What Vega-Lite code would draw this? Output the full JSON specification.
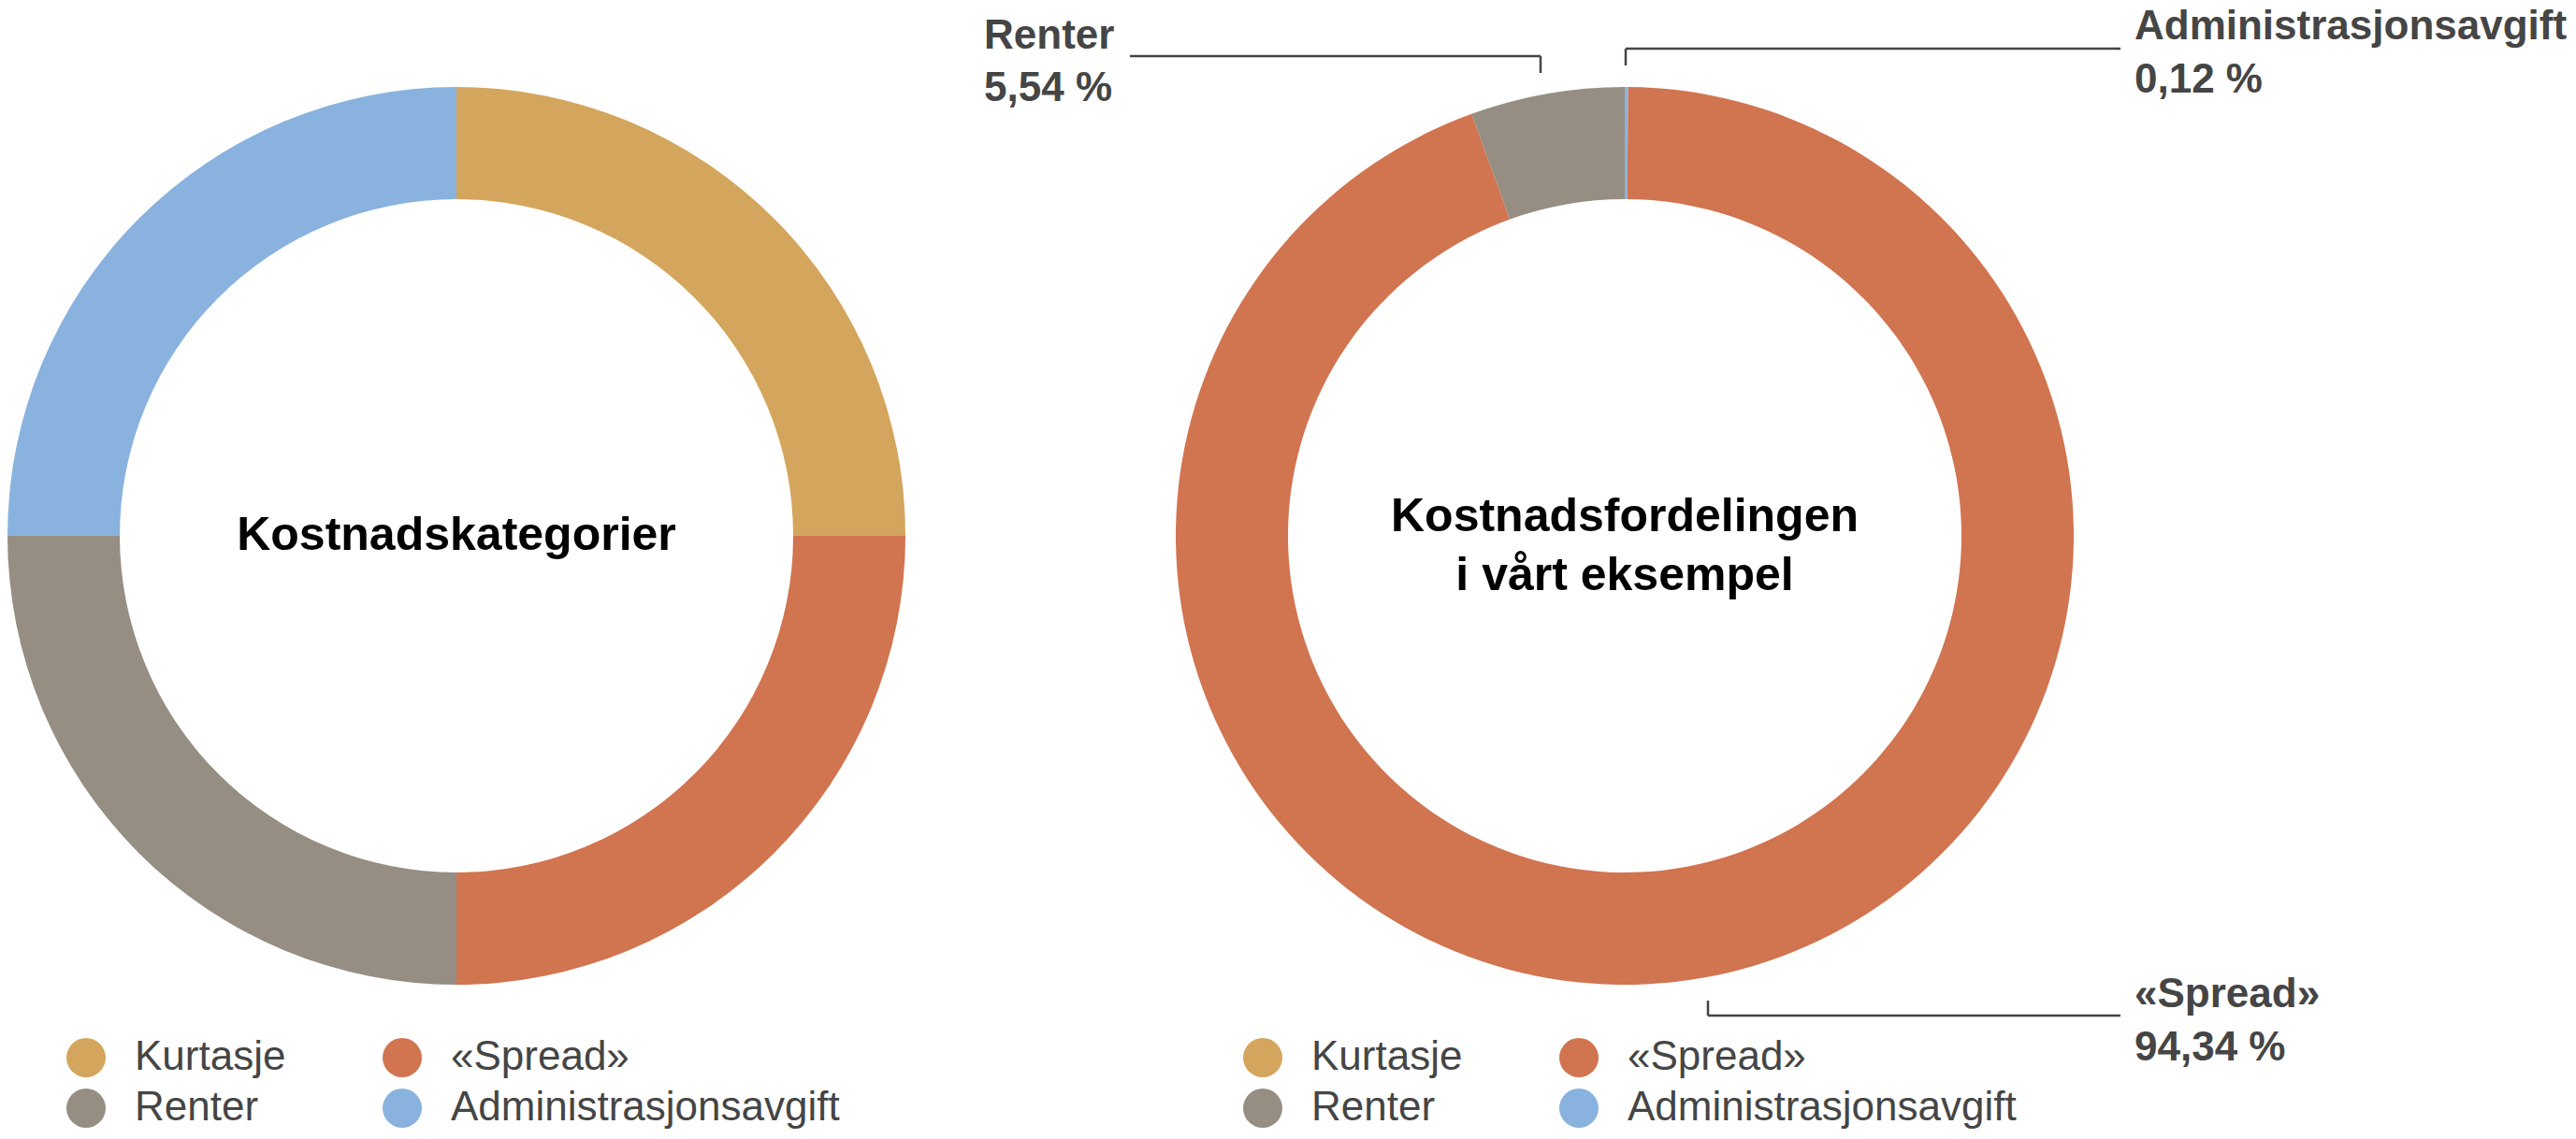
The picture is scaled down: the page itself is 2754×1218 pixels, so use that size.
{
  "$schema": "https://vega.github.io/schema/vega-lite/v6.json",
  "padding": 0,
  "background": "white",
  "bounds": "flush",
  "spacing": 24,
  "datasets": {
    "kategorier": [
      {"kategori": "Kurtasje", "andel": 25, "rekkefolge": 1},
      {"kategori": "«Spread»", "andel": 25, "rekkefolge": 2},
      {"kategori": "Renter", "andel": 25, "rekkefolge": 3},
      {"kategori": "Administrasjonsavgift", "andel": 25, "rekkefolge": 4}
    ],
    "eksempel": [
      {"kategori": "Administrasjonsavgift", "andel": 0.12, "rekkefolge": 1},
      {"kategori": "«Spread»", "andel": 94.34, "rekkefolge": 2},
      {"kategori": "Renter", "andel": 5.54, "rekkefolge": 3},
      {"kategori": "Kurtasje", "andel": 0, "rekkefolge": 4}
    ]
  },
  "config": {
    "view": {"stroke": null},
    "font": "Liberation Sans",
    "legend": {
      "title": null,
      "orient": "none",
      "direction": "horizontal",
      "columns": 2,
      "columnPadding": 102,
      "rowPadding": 10,
      "padding": 0,
      "symbolType": "circle",
      "symbolSize": 1764,
      "symbolStrokeWidth": 0,
      "symbolOpacity": 1,
      "labelFont": "Liberation Sans",
      "labelFontSize": 44,
      "labelColor": "#454545",
      "labelOffset": 30,
      "labelLimit": 0
    }
  },
  "resolve": {"scale": {"color": "independent"}, "legend": {"color": "independent"}},
  "hconcat": [
    {
      "width": 976,
      "height": 1146,
      "data": {"name": "kategorier"},
      "layer": [
        {
          "mark": {"type": "arc", "outerRadius": 480, "innerRadius": 360, "stroke": null},
          "encoding": {
            "theta": {"field": "andel", "type": "quantitative", "stack": true},
            "order": {"field": "rekkefolge", "type": "quantitative"},
            "color": {
              "field": "kategori",
              "type": "nominal",
              "scale": {
                "domain": ["Kurtasje", "«Spread»", "Renter", "Administrasjonsavgift"],
                "range": ["#D4A55C", "#D17450", "#968E83", "#89B3DE"]
              },
              "legend": {"legendX": 70, "legendY": 1109}
            }
          }
        },
        {
          "data": {"values": [{}]},
          "mark": {
            "type": "text",
            "text": "Kostnadskategorier",
            "font": "Liberation Sans",
            "fontSize": 50,
            "fontWeight": "bold",
            "color": "#000000",
            "align": "center",
            "baseline": "middle"
          },
          "encoding": {}
        }
      ]
    },
    {
      "width": 1474,
      "height": 1146,
      "data": {"name": "eksempel"},
      "layer": [
        {
          "mark": {"type": "arc", "outerRadius": 480, "innerRadius": 360, "stroke": null},
          "encoding": {
            "theta": {"field": "andel", "type": "quantitative", "stack": true},
            "order": {"field": "rekkefolge", "type": "quantitative"},
            "color": {
              "field": "kategori",
              "type": "nominal",
              "scale": {
                "domain": ["Kurtasje", "«Spread»", "Renter", "Administrasjonsavgift"],
                "range": ["#D4A55C", "#D17450", "#968E83", "#89B3DE"]
              },
              "legend": {"legendX": 328, "legendY": 1109}
            }
          }
        },
        {
          "data": {"values": [{}]},
          "mark": {
            "type": "text",
            "text": ["Kostnadsfordelingen", "i vårt eksempel"],
            "font": "Liberation Sans",
            "fontSize": 50,
            "fontWeight": "bold",
            "color": "#000000",
            "align": "center",
            "baseline": "middle",
            "lineHeight": 63
          },
          "encoding": {
            "y": {"datum": 4.2, "type": "quantitative", "scale": {"domain": [-119.375, 119.375], "nice": false, "zero": false}, "axis": null}
          }
        },
        {
          "data": {"values": [{}]},
          "mark": {"type": "rule", "color": "#454545", "strokeWidth": 2.5},
          "encoding": {
            "x": {"datum": -110.21, "type": "quantitative", "scale": {"domain": [-153.5417, 153.5417], "nice": false, "zero": false}, "axis": null},
            "x2": {"datum": -18.75},
            "y": {"datum": 106.875, "type": "quantitative", "scale": {"domain": [-119.375, 119.375], "nice": false, "zero": false}, "axis": null}
          }
        },
        {
          "data": {"values": [{}]},
          "mark": {"type": "rule", "color": "#454545", "strokeWidth": 2.5},
          "encoding": {
            "x": {"datum": -18.75, "type": "quantitative"},
            "y": {"datum": 106.875, "type": "quantitative"},
            "y2": {"datum": 103.125}
          }
        },
        {
          "data": {"values": [{}]},
          "mark": {"type": "rule", "color": "#454545", "strokeWidth": 2.5},
          "encoding": {
            "x": {"datum": 0.21, "type": "quantitative"},
            "x2": {"datum": 110.42},
            "y": {"datum": 108.54, "type": "quantitative"}
          }
        },
        {
          "data": {"values": [{}]},
          "mark": {"type": "rule", "color": "#454545", "strokeWidth": 2.5},
          "encoding": {
            "x": {"datum": 0.21, "type": "quantitative"},
            "y": {"datum": 108.54, "type": "quantitative"},
            "y2": {"datum": 104.79}
          }
        },
        {
          "data": {"values": [{}]},
          "mark": {"type": "rule", "color": "#454545", "strokeWidth": 2.5},
          "encoding": {
            "x": {"datum": 18.54, "type": "quantitative"},
            "y": {"datum": -103.54, "type": "quantitative"},
            "y2": {"datum": -106.875}
          }
        },
        {
          "data": {"values": [{}]},
          "mark": {"type": "rule", "color": "#454545", "strokeWidth": 2.5},
          "encoding": {
            "x": {"datum": 18.54, "type": "quantitative"},
            "x2": {"datum": 110.42},
            "y": {"datum": -106.875, "type": "quantitative"}
          }
        },
        {
          "transform": [
            {"filter": "datum.kategori === 'Renter'"},
            {"calculate": "[datum.kategori, replace(format(datum.andel, '.2f'), '.', ',') + ' %']", "as": "etikett"}
          ],
          "mark": {"type": "text", "font": "Liberation Sans", "fontSize": 44, "fontWeight": "bold", "color": "#454545", "align": "left", "baseline": "alphabetic", "lineHeight": 56},
          "encoding": {
            "text": {"field": "etikett"},
            "x": {"datum": -142.7, "type": "quantitative"},
            "y": {"datum": 108.54, "type": "quantitative"}
          }
        },
        {
          "transform": [
            {"filter": "datum.kategori === 'Administrasjonsavgift'"},
            {"calculate": "[datum.kategori, replace(format(datum.andel, '.2f'), '.', ',') + ' %']", "as": "etikett"}
          ],
          "mark": {"type": "text", "font": "Liberation Sans", "fontSize": 44, "fontWeight": "bold", "color": "#454545", "align": "left", "baseline": "alphabetic", "lineHeight": 57},
          "encoding": {
            "text": {"field": "etikett"},
            "x": {"datum": 113.54, "type": "quantitative"},
            "y": {"datum": 110.625, "type": "quantitative"}
          }
        },
        {
          "transform": [
            {"filter": "datum.kategori === '«Spread»'"},
            {"calculate": "[datum.kategori, replace(format(datum.andel, '.2f'), '.', ',') + ' %']", "as": "etikett"}
          ],
          "mark": {"type": "text", "font": "Liberation Sans", "fontSize": 44, "fontWeight": "bold", "color": "#454545", "align": "left", "baseline": "alphabetic", "lineHeight": 57},
          "encoding": {
            "text": {"field": "etikett"},
            "x": {"datum": 113.54, "type": "quantitative"},
            "y": {"datum": -105, "type": "quantitative"}
          }
        }
      ]
    }
  ]
}
